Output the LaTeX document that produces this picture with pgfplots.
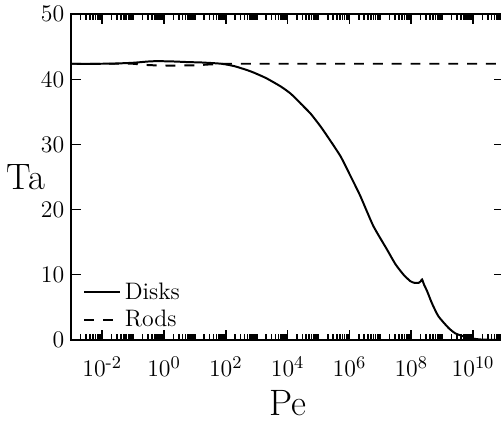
\documentclass[border=0pt]{standalone}
\usepackage{amsmath}
\usepackage{pgfplots}
\pgfplotsset{compat=1.18}

% minor ticks at m*10^e (MATLAB style)
\def\minorlist{}
\foreach \e in {-3,...,10}{\foreach \m in {1,...,9}{\xdef\minorlist{\minorlist\m e\e,}}}
\xdef\minorlist{\minorlist 1e11}

\begin{document}
\begin{tikzpicture}
\begin{axis}[
  scale only axis,
  width=218pt,
  height=164pt,
  xmode=log,
  xmin=1e-3, xmax=1e11,
  ymin=0, ymax=50,
  xtick={1e-2,1,1e2,1e4,1e6,1e8,1e10},
  xticklabels={$10^{\text{-}2}$,$10^{0}$,$10^{2}$,$10^{4}$,$10^{6}$,$10^{8}$,$10^{10}$},
  minor xtick/.expanded={\minorlist},
  ytick={0,10,20,30,40,50},
  tick align=inside,
  tick pos=both,
  major tick length=5pt,
  minor tick length=3pt,
  every tick/.style={black, line width=0.8pt},
  axis line style={line width=1pt},
  tick label style={font=\fontsize{13}{15}\selectfont},
  xticklabel style={yshift=-5pt},
  xlabel={Pe},
  ylabel={Ta},
  xlabel style={font=\fontsize{18.5}{20}\selectfont, at={(axis description cs:0.5,-0.195)}, anchor=center},
  ylabel style={font=\fontsize{18.5}{20}\selectfont, rotate=-90, at={(axis description cs:-0.105,0.5)}, anchor=center},
  legend style={at={(0.022,0.012)}, anchor=south west, draw=none, fill=none,
    font=\fontsize{12}{13.5}\selectfont, row sep=0pt, inner sep=1pt},
  legend cell align=left,
  legend image code/.code={\draw[#1] (0pt,0pt) -- (18pt,0pt);},
]
\addplot[black, line width=1pt, smooth, tension=0.35] coordinates {
(0.001,42.4) (0.01,42.4) (0.0316,42.45) (0.1,42.55) (0.316,42.75) (0.631,42.8)
(2.0,42.75) (6.31,42.65) (15.8,42.6) (72.4,42.4) (200,42.0) (661,41.2)
(2000,40.2) (6030,38.9) (12590,37.8) (26300,36.3) (56200,34.7) (114800,32.8)
(190500,31.3) (512900,28.2) (1.07e6,25.2) (2.24e6,22.1) (5.89e6,17.5)
(1.58e7,14.0) (3.09e7,11.6) (5.62e7,10.0) (9.33e7,9.0) (1.26e8,8.75)
(1.74e8,8.75) (2.0e8,8.95) (2.24e8,9.25) (2.63e8,8.4) (3.24e8,7.5)
(4.68e8,5.6) (7.59e8,3.6) (1.62e9,1.8) (2.63e9,1.0) (3.80e9,0.7)
(7.94e9,0.25) (1.66e10,0.05) (3.16e10,0) (1e11,0)
};
\addlegendentry{Disks}
\addplot[black, line width=1pt, dash pattern=on 5pt off 4.5pt] coordinates {
(0.001,42.4) (0.1,42.4) (0.3,42.2) (1,42.1) (10,42.15) (30,42.3) (100,42.4) (1e11,42.4)
};
\addlegendentry{Rods}
\coordinate (R) at (rel axis cs:1,1);
\end{axis}
\coordinate (SW) at (current bounding box.south west);
\coordinate (NE) at (current bounding box.north east);
\pgfresetboundingbox
\path[use as bounding box] (SW) rectangle ([xshift=-1.5pt]R |- NE);
\end{tikzpicture}
\end{document}
